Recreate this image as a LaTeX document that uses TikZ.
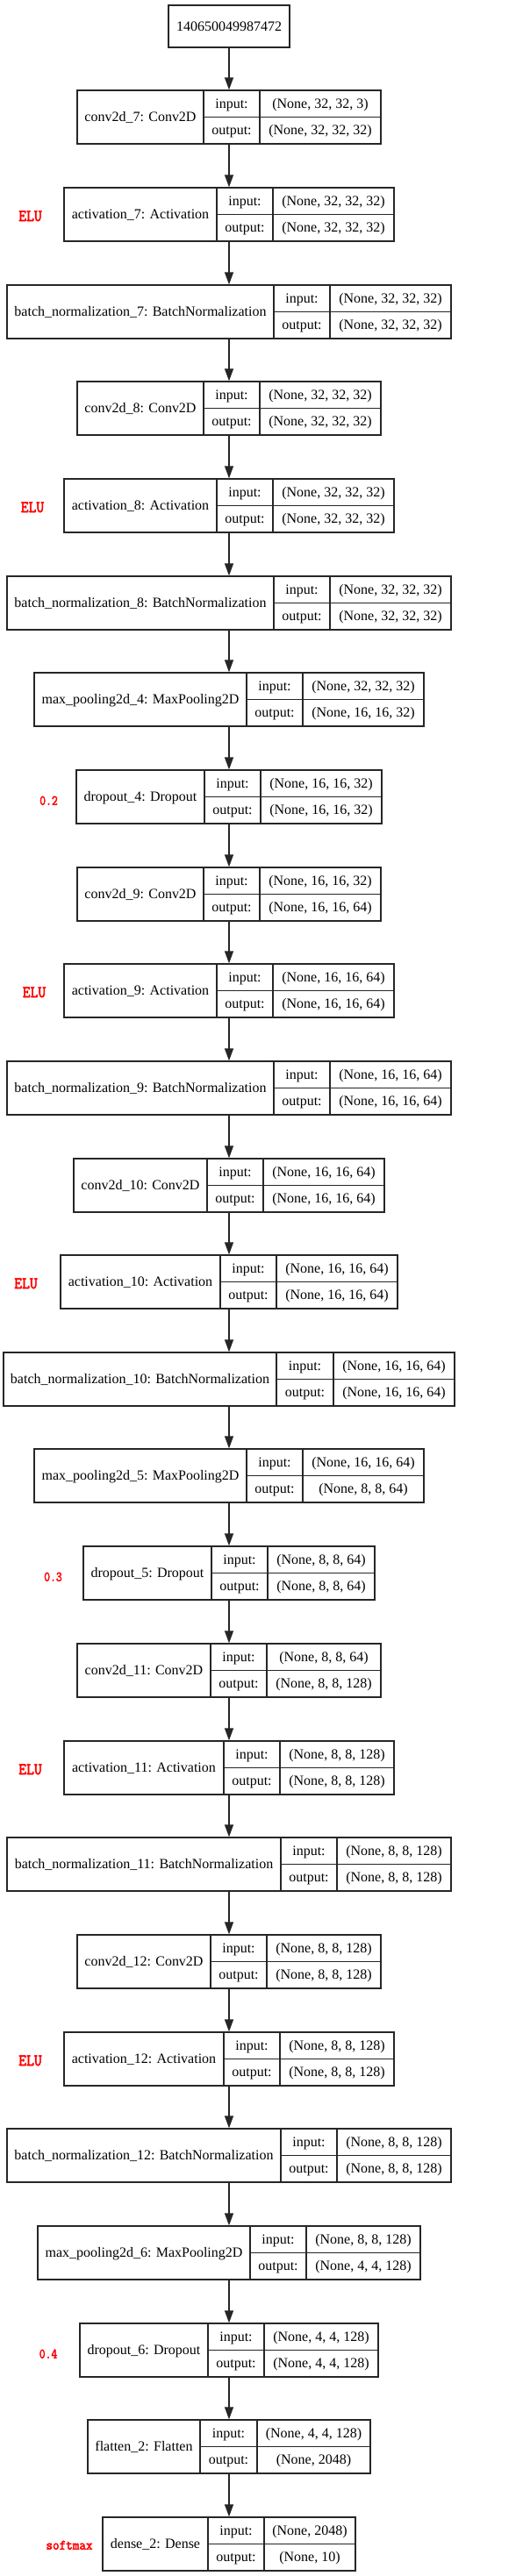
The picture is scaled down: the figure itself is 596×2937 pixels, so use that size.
\documentclass[tikz,border=0pt]{standalone}
\usepackage{graphicx}
\usepackage{fontspec}
\setmainfont{Liberation Serif}
\newfontfamily\lblfont{Latin Modern Mono}[FakeBold=3]
\usetikzlibrary{arrows.meta}
\definecolor{lnc}{HTML}{262626}
\tikzset{
  box/.style={draw=lnc, line width=1.3pt, inner sep=0pt, minimum height=61pt},
  divline/.style={draw=lnc, line width=1.3pt},
  txt/.style={anchor=base, inner sep=0pt, font=\fontsize{16}{19}\selectfont},
  lbl/.style={anchor=base, inner sep=0pt, text=red},
  arr/.style={draw=lnc, line width=1.3pt, -{Triangle[length=14pt,width=10pt]}},
}
\newcommand\layer[9]{%
  \node[box, minimum width={(#6-#3)*1pt}] (#1) at ({(#3+#6)/2},{#2+30.5}) {};
  \draw[divline] (#4,#2) -- (#4,#2+61);
  \draw[divline] (#5,#2) -- (#5,#2+61);
  \draw[divline] (#4,#2+30.5) -- (#6,#2+30.5);
  \node[txt] (#1n) at ({(#3+#4)/2},{#2+35.2}) {#7};
  \node[txt] (#1i) at ({(#4+#5)/2},{#2+20.5}) {input:};
  \node[txt] (#1o) at ({(#4+#5)/2},{#2+50.3}) {output:};
  \node[txt] (#1iv) at ({(#5+#6)/2},{#2+20.5}) {#8};
  \node[txt] (#1ov) at ({(#5+#6)/2},{#2+50.3}) {#9};
}
\newcommand\elulab[3]{%
  \node[lbl, font=\fontsize{19}{22}\selectfont\lblfont] (#1) at (#2,{#3+30.5+7.5}) {\scalebox{0.9}[1]{ELU}};}
\newcommand\droplab[4]{%
  \node[lbl, font=\fontsize{16}{19}\selectfont\lblfont] (#1) at (#2,{#3+30.5+9.2}) {\scalebox{0.83}[1]{#4}};}
\begin{document}
\begin{tikzpicture}[x=1pt,y=-1pt]
\useasboundingbox (0,0) rectangle (596,2937);
\fill[white] (0,0) rectangle (596,2937);
% input node
\node[box, minimum width=138pt, minimum height=48pt] (inp) at (261,30) {};
\node[txt] (inpt) at (261,35) {140650049987472};
% layers
\layer{c7}{103}{88}{232}{296}{434}{conv2d\_7: Conv2D}{(None, 32, 32, 3)}{(None, 32, 32, 32)}
\layer{a7}{214}{73}{247}{311}{449}{activation\_7: Activation}{(None, 32, 32, 32)}{(None, 32, 32, 32)}
\layer{b7}{325}{8}{312}{376}{514}{batch\_normalization\_7: BatchNormalization}{(None, 32, 32, 32)}{(None, 32, 32, 32)}
\layer{c8}{435}{88}{232}{296}{434}{conv2d\_8: Conv2D}{(None, 32, 32, 32)}{(None, 32, 32, 32)}
\layer{a8}{546}{73}{247}{311}{449}{activation\_8: Activation}{(None, 32, 32, 32)}{(None, 32, 32, 32)}
\layer{b8}{657}{8}{312}{376}{514}{batch\_normalization\_8: BatchNormalization}{(None, 32, 32, 32)}{(None, 32, 32, 32)}
\layer{m4}{767}{39}{281}{345}{483}{max\_pooling2d\_4: MaxPooling2D}{(None, 32, 32, 32)}{(None, 16, 16, 32)}
\layer{d4}{878}{87}{233}{297}{435}{dropout\_4: Dropout}{(None, 16, 16, 32)}{(None, 16, 16, 32)}
\layer{c9}{989}{88}{232}{296}{434}{conv2d\_9: Conv2D}{(None, 16, 16, 32)}{(None, 16, 16, 64)}
\layer{a9}{1099}{73}{247}{311}{449}{activation\_9: Activation}{(None, 16, 16, 64)}{(None, 16, 16, 64)}
\layer{b9}{1210}{8}{312}{376}{514}{batch\_normalization\_9: BatchNormalization}{(None, 16, 16, 64)}{(None, 16, 16, 64)}
\layer{c10}{1321}{84}{236}{300}{438}{conv2d\_10: Conv2D}{(None, 16, 16, 64)}{(None, 16, 16, 64)}
\layer{a10}{1431}{69}{251}{315}{453}{activation\_10: Activation}{(None, 16, 16, 64)}{(None, 16, 16, 64)}
\layer{b10}{1542}{4}{315}{380}{518}{batch\_normalization\_10: BatchNormalization}{(None, 16, 16, 64)}{(None, 16, 16, 64)}
\layer{m5}{1652}{39}{281}{345}{483}{max\_pooling2d\_5: MaxPooling2D}{(None, 16, 16, 64)}{(None, 8, 8, 64)}
\layer{d5}{1763}{95}{241}{305}{427}{dropout\_5: Dropout}{(None, 8, 8, 64)}{(None, 8, 8, 64)}
\layer{c11}{1874}{88}{240}{304}{434}{conv2d\_11: Conv2D}{(None, 8, 8, 64)}{(None, 8, 8, 128)}
\layer{a11}{1985}{73}{255}{319}{449}{activation\_11: Activation}{(None, 8, 8, 128)}{(None, 8, 8, 128)}
\layer{b11}{2095}{8}{320}{384}{514}{batch\_normalization\_11: BatchNormalization}{(None, 8, 8, 128)}{(None, 8, 8, 128)}
\layer{c12}{2206}{88}{240}{304}{434}{conv2d\_12: Conv2D}{(None, 8, 8, 128)}{(None, 8, 8, 128)}
\layer{a12}{2317}{73}{255}{319}{449}{activation\_12: Activation}{(None, 8, 8, 128)}{(None, 8, 8, 128)}
\layer{b12}{2427}{8}{320}{384}{514}{batch\_normalization\_12: BatchNormalization}{(None, 8, 8, 128)}{(None, 8, 8, 128)}
\layer{m6}{2538}{43}{285}{349}{479}{max\_pooling2d\_6: MaxPooling2D}{(None, 8, 8, 128)}{(None, 4, 4, 128)}
\layer{d6}{2649}{91}{237}{301}{431}{dropout\_6: Dropout}{(None, 4, 4, 128)}{(None, 4, 4, 128)}
\layer{f2}{2759}{100}{228}{293}{422}{flatten\_2: Flatten}{(None, 4, 4, 128)}{(None, 2048)}
\layer{e2}{2870}{117}{237}{301}{405}{dense\_2: Dense}{(None, 2048)}{(None, 10)}
% side labels
\elulab{la7}{34.5}{214}
\elulab{la8}{37}{546}
\elulab{la9}{39}{1099}
\elulab{la10}{29.5}{1431}
\elulab{la11}{34.5}{1985}
\elulab{la12}{34.5}{2317}
\droplab{ld4}{55.5}{878}{0.2}
\droplab{ld5}{60.5}{1763}{0.3}
\droplab{ld6}{55}{2649}{0.4}
\node[lbl, font=\fontsize{16}{19}\selectfont\lblfont] (le2) at (79,{2870+30.5+6.2}) {\scalebox{0.92}[1]{softmax}};
% connectors
\foreach \a/\b in {inp/c7,c7/a7,a7/b7,b7/c8,c8/a8,a8/b8,b8/m4,m4/d4,d4/c9,c9/a9,a9/b9,b9/c10,c10/a10,a10/b10,b10/m5,m5/d5,d5/c11,c11/a11,a11/b11,b11/c12,c12/a12,a12/b12,b12/m6,m6/d6,d6/f2,f2/e2}
  \draw[arr] (\a.south) -- (\b.north);
\end{tikzpicture}
\end{document}
